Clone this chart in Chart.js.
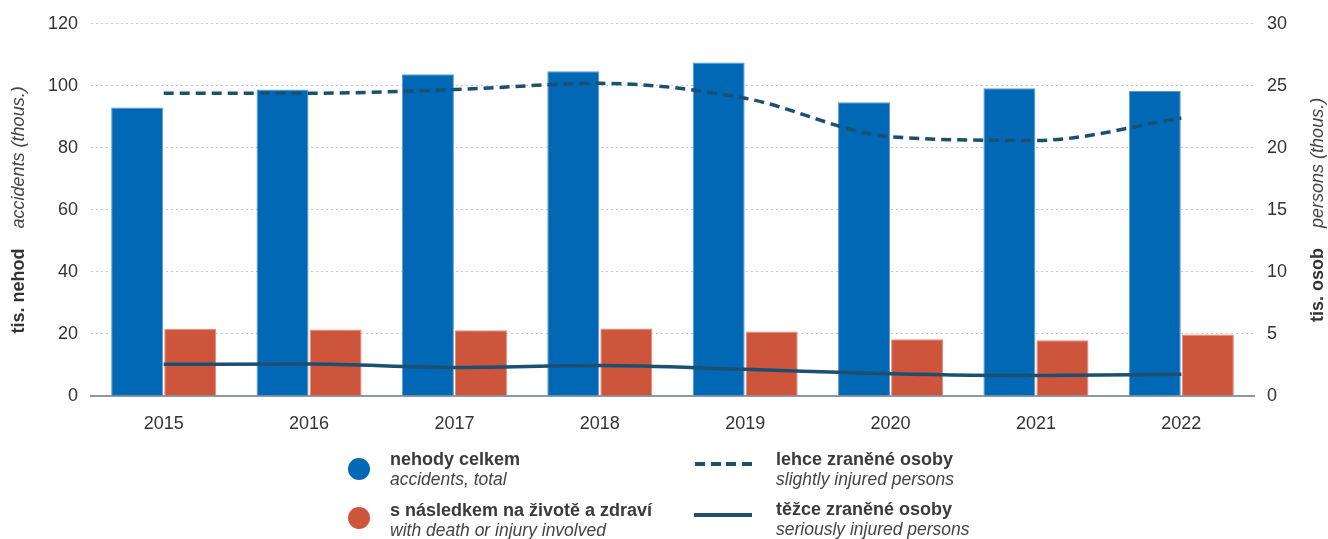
<!DOCTYPE html>
<html>
<head>
<meta charset="utf-8">
<script src="https://cdn.jsdelivr.net/npm/chart.js@4"></script>
<style>
    body { margin: 0; background: #fff; font-family: "Liberation Sans", Arial, sans-serif; }
    #wrap { position: relative; width: 1328px; height: 539px; }
    .leg { position: absolute; color: #3a3a3a; white-space: nowrap; }
    .leg b { display: block; font-size: 18px; line-height: 20px; }
    .leg i { display: block; font-size: 17.5px; line-height: 20px; color: #444; }
    .dot { position: absolute; width: 22px; height: 22px; border-radius: 50%; }
    .ln { position: absolute; width: 58px; height: 3.5px; }
</style>
</head>
<body>
<div id="wrap">
    <canvas id="myChart" width="1328" height="539"></canvas>

    <div class="dot" style="left:348px; top:458px; background:#0068b4;"></div>
    <div class="leg" style="left:390px; top:449px;"><b>nehody celkem</b><i>accidents, total</i></div>
    <div class="dot" style="left:348px; top:507px; background:#cc553b;"></div>
    <div class="leg" style="left:390px; top:500px;"><b>s následkem na životě a zdraví</b><i>with death or injury involved</i></div>

    <div class="ln" style="left:695px; top:462px; background:repeating-linear-gradient(to right, #1d4f70 0 10px, transparent 10px 15.5px);"></div>
    <div class="leg" style="left:776px; top:449px;"><b>lehce zraněné osoby</b><i>slightly injured persons</i></div>
    <div class="ln" style="left:694px; top:513px; background:#1d4f70;"></div>
    <div class="leg" style="left:776px; top:499px;"><b>těžce zraněné osoby</b><i>seriously injured persons</i></div>
</div>

<script>
// Data (thousands)
const years = ['2015', '2016', '2017', '2018', '2019', '2020', '2021', '2022'];
const accidentsTotal = [93.0, 98.8, 103.7, 104.7, 107.5, 94.7, 99.2, 98.3];
const accidentsInjury = [21.7, 21.4, 21.2, 21.8, 20.8, 18.3, 18.0, 19.8];
const slightlyInjured = [24.4, 24.4, 24.7, 25.2, 24.0, 20.9, 20.6, 22.4];
const seriouslyInjured = [2.55, 2.57, 2.3, 2.45, 2.15, 1.8, 1.65, 1.75];

const leftTicks = [0, 20, 40, 60, 80, 100, 120];
const rightTicks = [0, 5, 10, 15, 20, 25, 30];

const lineColor = '#1d4f70';
const tickFont = { size: 18, family: '"Liberation Sans", Arial' };

// Draws the two-part rotated axis titles (bold Czech + italic English)
const axisTitles = {
    id: 'axisTitles',
    afterDraw(chart) {
        const ctx = chart.ctx;
        const area = chart.chartArea;
        const midY = (area.top + area.bottom) / 2;
        const draw = (x, boldText, italicText) => {
            ctx.save();
            ctx.translate(x, midY);
            ctx.rotate(-Math.PI / 2);
            ctx.textBaseline = 'middle';
            ctx.fillStyle = '#333';
            const boldFont = 'bold 18px "Liberation Sans", Arial, sans-serif';
            const italicFont = 'italic 18px "Liberation Sans", Arial, sans-serif';
            ctx.font = boldFont;
            const wb = ctx.measureText(boldText).width;
            ctx.font = italicFont;
            const wi = ctx.measureText(italicText).width;
            const gap = 20;
            let start = -(wb + gap + wi) / 2;
            ctx.font = boldFont;
            ctx.textAlign = 'left';
            ctx.fillText(boldText, start, 0);
            ctx.font = italicFont;
            ctx.fillStyle = '#444';
            ctx.fillText(italicText, start + wb + gap, 0);
            ctx.restore();
        };
        draw(19, 'tis. nehod', 'accidents (thous.)');
        draw(1318, 'tis. osob', 'persons (thous.)');
    }
};

const ctx = document.getElementById('myChart').getContext('2d');
const myChart = new Chart(ctx, {
    data: {
        labels: years,
        datasets: [
            {
                type: 'line',
                label: 'lehce zraněné osoby',
                data: slightlyInjured,
                yAxisID: 'y2',
                borderColor: lineColor,
                borderWidth: 3.5,
                borderDash: [10, 6],
                pointRadius: 0,
                cubicInterpolationMode: 'monotone',
                order: 0
            },
            {
                type: 'line',
                label: 'těžce zraněné osoby',
                data: seriouslyInjured,
                yAxisID: 'y2',
                borderColor: lineColor,
                borderWidth: 3.5,
                pointRadius: 0,
                cubicInterpolationMode: 'monotone',
                order: 0
            },
            {
                type: 'bar',
                label: 'nehody celkem',
                data: accidentsTotal,
                yAxisID: 'y',
                backgroundColor: '#0068b4',
                borderColor: '#5b9bd2',
                borderWidth: 1,
                barPercentage: 0.98,
                categoryPercentage: 0.73,
                order: 1
            },
            {
                type: 'bar',
                label: 's následkem na životě a zdraví',
                data: accidentsInjury,
                yAxisID: 'y',
                backgroundColor: '#cc553b',
                borderColor: '#e58a74',
                borderWidth: 1,
                barPercentage: 0.98,
                categoryPercentage: 0.73,
                order: 1
            }
        ]
    },
    options: {
        responsive: false,
        animation: false,
        layout: { padding: { top: 12, bottom: 0, left: 0, right: 0 } },
        plugins: {
            legend: { display: false },
            tooltip: { enabled: false }
        },
        scales: {
            x: {
                grid: { display: false, drawTicks: false },
                border: { color: '#8a99a6', width: 2 },
                ticks: { color: '#333', font: tickFont, padding: 17 },
                afterFit(scale) { scale.height = 143; }
            },
            y: {
                position: 'left',
                min: 0,
                max: 120,
                afterBuildTicks(scale) { scale.ticks = leftTicks.map(v => ({ value: v })); },
                grid: { color: '#c8c8c8', lineWidth: 1, drawTicks: false },
                border: { display: false, dash: [2, 3] },
                ticks: { color: '#333', font: tickFont, padding: 13 },
                afterFit(scale) { scale.width = 91; }
            },
            y2: {
                position: 'right',
                min: 0,
                max: 30,
                afterBuildTicks(scale) { scale.ticks = rightTicks.map(v => ({ value: v })); },
                grid: { display: false, drawTicks: false },
                border: { display: false },
                ticks: { color: '#333', font: tickFont, padding: 13 },
                afterFit(scale) { scale.width = 74; }
            }
        }
    },
    plugins: [axisTitles]
});
</script>
</body>
</html>
